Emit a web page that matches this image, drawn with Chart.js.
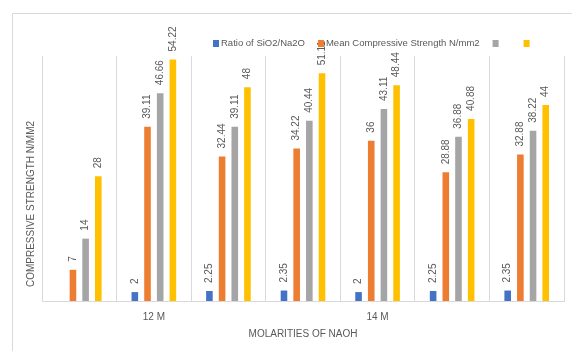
<!DOCTYPE html>
<html>
<head>
<meta charset="utf-8">
<script src="https://cdn.jsdelivr.net/npm/chart.js@4.4.0/dist/chart.umd.min.js"></script>
<style>
  body { margin: 0; background: #fff; }
  #wrap { position: relative; width: 572px; height: 351px; }
</style>
</head>
<body>
<div id="wrap"><canvas id="myChart" width="572" height="351"></canvas></div>
<script>
// categories (only two of the seven groups carry a label)
const molarities = ['', '12 M', '', '', '14 M', '', ''];

// series values
const ratioSiO2 = [null, 2, 2.25, 2.35, 2, 2.25, 2.35];
const meanStrength = [7, 39.11, 32.44, 34.22, 36, 28.88, 32.88];
const series3 = [14, 46.66, 39.11, 40.44, 43.11, 36.88, 38.22];
const series4 = [28, 54.22, 48, 51.11, 48.44, 40.88, 44];

const seriesNames = ['Ratio of SiO2/Na2O', 'Mean Compressive Strength N/mm2', '', ''];
const seriesColors = ['#4472C4', '#ED7D31', '#A5A5A5', '#FFC000'];

const textColor = '#595959';
const fontFamily = '"Liberation Sans", Arial, sans-serif';

// frame round the whole chart + y axis title
const framePlugin = {
    id: 'frame',
    beforeDraw(chart) {
        const ctx = chart.ctx;
        ctx.save();
        ctx.fillStyle = '#fff';
        ctx.fillRect(0, 0, chart.width, chart.height);
        ctx.strokeStyle = '#d9d9d9';
        ctx.lineWidth = 1;
        ctx.strokeRect(12.5, 13.5, chart.width + 20, chart.height + 20);
        ctx.restore();
    },
    afterDraw(chart) {
        const ctx = chart.ctx;
        ctx.save();
        ctx.translate(31, 204);
        ctx.rotate(-Math.PI / 2);
        ctx.fillStyle = textColor;
        ctx.font = '10px ' + fontFamily;
        ctx.textAlign = 'center';
        ctx.textBaseline = 'middle';
        ctx.fillText('COMPRESSIVE STRENGTH N/MM2', 0, 0);
        ctx.restore();
    }
};

// rotated value labels above each bar
const valueLabels = {
    id: 'valueLabels',
    afterDatasetsDraw(chart) {
        const ctx = chart.ctx;
        chart.data.datasets.forEach((ds, i) => {
            const meta = chart.getDatasetMeta(i);
            meta.data.forEach((bar, j) => {
                const v = ds.data[j];
                if (v === null || v === undefined) return;
                ctx.save();
                ctx.translate(bar.x, bar.y - 8);
                ctx.rotate(-Math.PI / 2);
                ctx.fillStyle = textColor;
                ctx.font = '10px ' + fontFamily;
                ctx.textAlign = 'left';
                ctx.textBaseline = 'middle';
                ctx.fillText(String(v), 0, 0);
                ctx.restore();
            });
        });
    }
};

// legend sits right of centre in the original, so it is drawn by hand
const legendPlugin = {
    id: 'sideLegend',
    afterDraw(chart) {
        const ctx = chart.ctx;
        ctx.save();
        ctx.font = '9.5px ' + fontFamily;
        ctx.textBaseline = 'middle';
        let x = 213;
        const y = 43;
        chart.data.datasets.forEach((ds) => {
            ctx.fillStyle = ds.backgroundColor;
            ctx.fillRect(x, y - 3, 6, 7);
            ctx.fillStyle = textColor;
            ctx.fillText(ds.label, x + 8, y);
            const w = ds.label ? ctx.measureText(ds.label).width : 10;
            x += 8 + w + 13;
        });
        ctx.restore();
    }
};

const datasets = [ratioSiO2, meanStrength, series3, series4].map((values, i) => ({
    label: seriesNames[i],
    data: values,
    backgroundColor: seriesColors[i],
    categoryPercentage: 0.68,
    barPercentage: 0.52
}));

const myChart = document.getElementById('myChart');

let barChart = new Chart(myChart, {
    type: 'bar',
    data: {
        labels: molarities,
        datasets: datasets
    },
    options: {
        responsive: false,
        animation: false,
        layout: {
            padding: { left: 42, right: 8, top: 56, bottom: 7 }
        },
        plugins: {
            legend: { display: false },
            tooltip: { enabled: false }
        },
        scales: {
            x: {
                grid: {
                    color: '#d9d9d9',
                    drawTicks: false,
                    tickLength: 0
                },
                border: { color: '#d9d9d9' },
                ticks: {
                    color: textColor,
                    font: { family: fontFamily, size: 10 },
                    padding: 10,
                    maxRotation: 0,
                    autoSkip: false
                },
                title: {
                    display: true,
                    text: 'MOLARITIES OF NAOH',
                    color: textColor,
                    font: { family: fontFamily, size: 10 },
                    padding: { top: -5, bottom: 4 }
                }
            },
            y: {
                display: false,
                min: 0,
                max: 55
            }
        }
    },
    plugins: [framePlugin, valueLabels, legendPlugin]
});
</script>
</body>
</html>
